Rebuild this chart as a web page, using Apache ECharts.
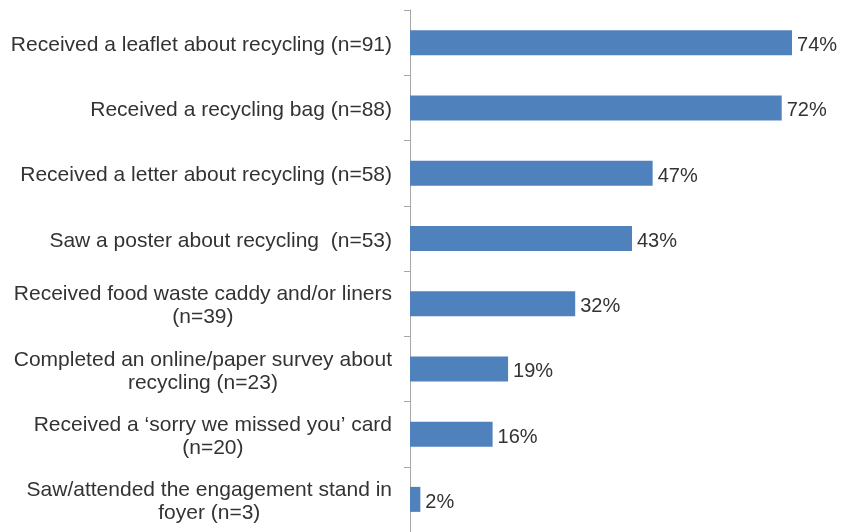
<!DOCTYPE html>
<html>
<head>
<meta charset="utf-8">
<script src="https://cdn.jsdelivr.net/npm/echarts@6/dist/echarts.min.js"></script>
<style>
  html, body { margin: 0; padding: 0; background: #fff; }
  #chart { width: 841px; height: 532px; }
</style>
</head>
<body>
<div id="chart"></div>
<script>
// Engagement activities reported (top to bottom)
const categories = [
  'Received a leaflet about recycling (n=91)',
  'Received a recycling bag (n=88)',
  'Received a letter about recycling (n=58)',
  'Saw a poster about recycling  (n=53)',
  'Received food waste caddy and/or liners\n(n=39)',
  'Completed an online/paper survey about\nrecycling (n=23)',
  'Received a \u2018sorry we missed you\u2019 card\n(n=20)',
  'Saw/attended the engagement stand in\nfoyer (n=3)'
];
// Share of respondents, percent
const percentValues = [74, 72, 47, 43, 32, 19, 16, 2];

const chart = echarts.init(document.getElementById('chart'), null, { renderer: 'canvas' });

const font = 'Arial, "Liberation Sans", sans-serif';
const textColor = '#333333';

chart.setOption({
  animation: false,
  grid: { left: 410, right: 18, top: 10, bottom: -1, containLabel: false },
  xAxis: {
    type: 'value',
    min: 0,
    max: 80,
    show: false
  },
  yAxis: {
    type: 'category',
    data: categories,
    inverse: true,
    axisLine: { show: true, lineStyle: { color: '#A6A6A6', width: 1 } },
    axisTick: { show: true, length: 6, lineStyle: { color: '#A6A6A6' } },
    axisLabel: {
      margin: 18,
      color: textColor,
      fontFamily: font,
      fontSize: 21,
      padding: [5, 0, 0, 0],
      formatter: function (v) {
        return v.split('\n').map(function (l) { return '{c|' + l + '}'; }).join('\n');
      },
      rich: {
        c: { align: 'center', fontFamily: font, fontSize: 21, color: textColor, lineHeight: 23 }
      }
    },
    splitLine: { show: false }
  },
  series: [{
    type: 'bar',
    data: percentValues,
    barWidth: 25,
    itemStyle: { color: '#4F81BD' },
    label: {
      show: true,
      position: 'right',
      distance: 5,
      offset: [0, 3],
      formatter: '{c}%',
      color: textColor,
      fontFamily: font,
      fontSize: 20
    }
  }]
});
</script>
</body>
</html>
